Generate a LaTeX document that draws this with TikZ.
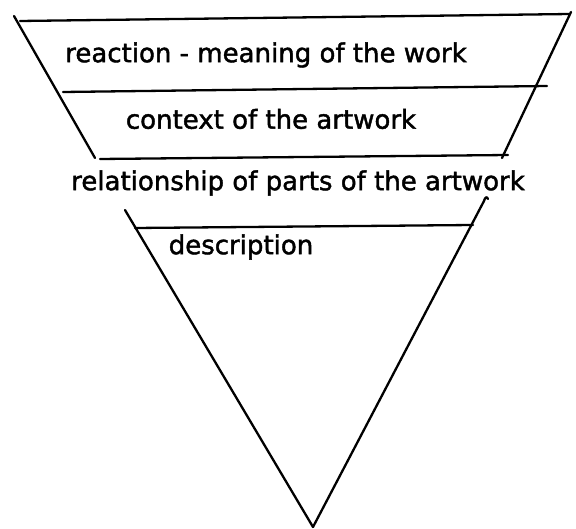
\documentclass[tikz,border=0pt]{standalone}
\usepackage{fontspec}
\setmainfont{DejaVu Sans}
\newfontfamily\heavyfont{DejaVu Sans}[FakeBold=1.6]
\begin{document}
\begin{tikzpicture}[x=1pt,y=-1pt,
  stroke/.style={line width=2.3pt,line cap=round,line join=round},
  label/.style={inner sep=0pt,font=\heavyfont\fontsize{26}{30}\selectfont}]
\useasboundingbox (0,0) rectangle (576,529);
% upper trapezoid
\draw[stroke] (14,16) -- (95,158);
\draw[stroke] (20,21) -- (570,14);
\draw[stroke] (571,12) -- (502,158);
\draw[stroke] (63,92) -- (547,86);
\draw[stroke] (100,159) -- (508,155);
% lower triangle
\draw[stroke] (125,210) -- (313,527);
\draw[stroke] (313,527) -- (484,201) .. controls (485,197) and (487,196) .. (488,199);
\draw[stroke] (135,228) -- (473,225);
% texts
\node[label] (reaction) at (266,55) {reaction - meaning of the work};
\node[label] (context) at (271,119) {context of the artwork};
\node[label] (relation) at (298,183) {relationship of parts of the artwork};
\node[label] (descr) at (241,247) {description};
\end{tikzpicture}
\end{document}
